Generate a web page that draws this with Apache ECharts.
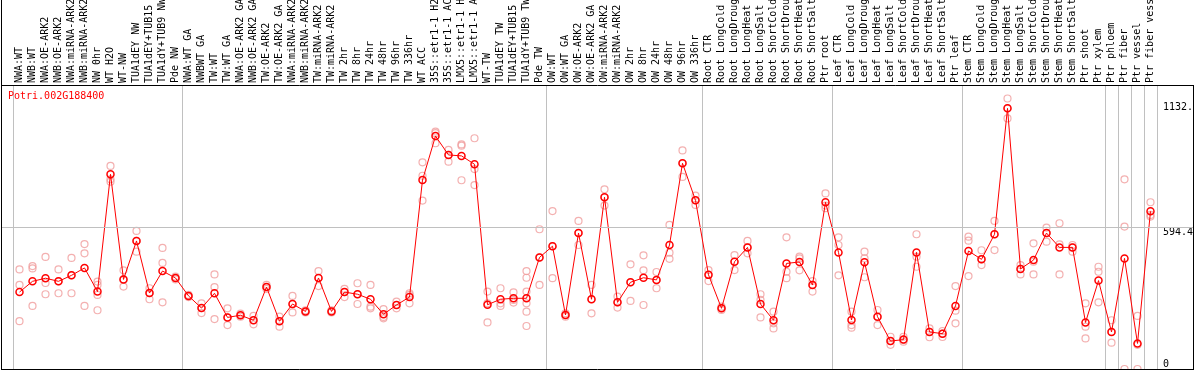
<!DOCTYPE html>
<html>
<head>
<meta charset="utf-8">
<script src="https://cdn.jsdelivr.net/npm/echarts@6/dist/echarts.min.js"></script>
<style>
html,body{margin:0;padding:0;background:#fff;}
#chart{width:1194px;height:370px;}
</style>
</head>
<body>
<div id="chart"></div>
<script>
const geneName = 'Potri.002G188400';

const categories = [
  'NWA:WT','NWB:WT','NWA:OE-ARK2','NWB:OE-ARK2','NWA:miRNA-ARK2','NWB:miRNA-ARK2','NW 0hr','WT H2O','WT-NW','TUA1dEY NW',
  'TUA1dEY+TUB15 NW','TUA1dY+TUB9 NW','Pde NW',
  'NWA:WT GA','NWBWT GA','TW:WT','TW:WT GA','NWA:OE-ARK2 GA','NWB:OE-ARK2 GA','TW:OE-ARK2','TW:OE-ARK2 GA',
  'NWA:miRNA-ARK2 GA','NWB:miRNA-ARK2 GA','TW:miRNA-ARK2','TW:miRNA-ARK2 GA','TW 2hr','TW 8hr','TW 24hr','TW 48hr','TW 96hr',
  'TW 336hr','WT ACC','35S::etr1-1 H2O','35S::etr1-1 ACC','LMX5::etr1-1 H2O','LMX5::etr1-1 ACC','WT-TW','TUA1dEY TW','TUA1dEY+TUB15 TW','TUA1dY+TUB9 TW',
  'Pde TW',
  'OW:WT','OW:WT GA','OW:OE-ARK2','OW:OE-ARK2 GA','OW:miRNA-ARK2','OW:miRNA-ARK2 GA','OW 2hr','OW 8hr','OW 24hr',
  'OW 48hr','OW 96hr','OW 336hr',
  'Root CTR','Root LongCold','Root LongDrought','Root LongHeat','Root LongSalt','Root ShortCold','Root ShortDrought',
  'Root ShortHeat','Root ShortSalt','Ptr root',
  'Leaf CTR','Leaf LongCold','Leaf LongDrought','Leaf LongHeat','Leaf LongSalt','Leaf ShortCold','Leaf ShortDrought',
  'Leaf ShortHeat','Leaf ShortSalt','Ptr leaf',
  'Stem CTR','Stem LongCold','Stem LongDrought','Stem LongHeat','Stem LongSalt','Stem ShortCold','Stem ShortDrought',
  'Stem ShortHeat','Stem ShortSalt','Ptr shoot','Ptr xylem',
  'Ptr phloem','Ptr fiber','Ptr vessel','Ptr fiber vessel'
];

// indices of the first category of each separated group
const groupStarts = [0, 13, 41, 53, 63, 73, 84, 85, 86, 87];

// mean expression per sample
const meanValues = [
  322, 367, 380, 367, 392, 423, 324, 815, 375, 536,
  318, 410, 381, 306, 255, 317, 216, 225, 204, 343,
  200, 272, 241, 381, 241, 322, 313, 292, 229, 268,
  301, 791, 975, 896, 892, 857, 269, 292, 296, 296,
  467, 514, 226, 569, 292, 719, 279, 363, 382, 373,
  519, 861, 706, 394, 254, 449, 509, 272, 204, 442,
  448, 352, 698, 488, 205, 447, 219, 117, 123, 488,
  155, 148, 264, 494, 459, 564, 1091, 419, 456, 569,
  509, 509, 195, 370, 155, 463, 107, 660
];

// individual replicate values per sample
const replicates = [
  [417,352,200],[431,421,264],[469,360,313],[417,367,317],[465,392,317],
  [523,484,264],[366,352,310,246],[850,794,784],[413,375,345],[578,536,491],
  [338,318,292],[507,444,279],[387,380,375],[310,306,301],[275,255,234],
  [396,343,209],[254,216,184],[232,225,219],[222,204,187],[352,343,335],
  [219,200,177],[306,272,237],[246,241,237],[410,381,347],[246,241,237],
  [335,322,301],[359,313,272],[352,261,254],[251,218,212],[282,268,254],
  [317,310,275],[865,809,705],[994,987,945],[917,896,868],[940,935,790],
  [966,837,770],[324,275,195],[338,275,264],[321,289,278],[410,382,324,275,240,180],
  [585,467,352],[661,514,380],[233,226,219],[620,569,519],[352,292,233],
  [752,719,684],[303,279,257],[438,363,285],[476,413,268],[406,373,338],
  [603,487,461],[915,861,804],[726,706,687],[414,394,368],[261,254,247],
  [477,449,414],[536,509,484],[313,289,216],[240,191,170],[551,407,380],
  [470,463,413],[368,352,324],[735,684,673],[551,519,392],[240,184,173],
  [491,463,384],[247,218,184],[135,117,101],[135,121,114],[564,470,428],
  [170,155,133],[159,148,134],[347,244,191],[554,537,389],[497,459,435],
  [620,564,498],[1132.2,1091,1049],[435,419,396],[526,449,396],[592,569,533],
  [610,522,396],[519,509,491],[275,177,128],[428,407,279],[204,155,110],
  [794,596,0],[222,101,0],[698,645,638]
];

const yMax = 1188.8;
const yTickValues = [0, 594.4, 1132.2];
const yTickLabels = ['0', '594.4', '1132.'];
const midValue = 594.4;

const FONT = 'DejaVu Sans Mono';
const GRAY = '#c0c0c0';
const RED = '#ff0000';
const PINK = '#f09c9c';

const repPoints = [];
replicates.forEach((reps, i) => reps.forEach(v => repPoints.push([i, v])));

const groupInterval = (index) => groupStarts.indexOf(index) >= 0;

function labelAxis(i, va, pad) {
  return {
    type: 'value', gridIndex: 0, min: 0, max: yMax, position: 'right',
    axisLine: {show: false}, axisTick: {show: false}, splitLine: {show: false},
    axisLabel: {
      show: true, customValues: [yTickValues[i]], margin: 6, align: 'left',
      verticalAlign: va, padding: pad, color: '#000', fontSize: 10, fontFamily: FONT,
      formatter: (v) => yTickLabels[yTickValues.indexOf(v)]
    }
  };
}

const chart = echarts.init(document.getElementById('chart'), null, {renderer: 'canvas'});
chart.setOption({
  animation: false,
  backgroundColor: '#ffffff',
  textStyle: {fontFamily: FONT},
  title: {
    text: geneName, left: 8, top: 91, padding: 0,
    textStyle: {color: RED, fontSize: 10, fontWeight: 'normal', fontFamily: FONT}
  },
  grid: [
    {left: 13, right: 37, top: 85, bottom: 1, containLabel: false, outerBoundsMode: 'none'},
    {left: 1, right: 1, top: 85, bottom: 1, containLabel: false, outerBoundsMode: 'none'}
  ],
  xAxis: [
    {
      type: 'category', gridIndex: 0, data: categories, position: 'top', boundaryGap: true,
      axisLine: {show: false},
      axisTick: {show: true, inside: false, length: 85, interval: groupInterval, lineStyle: {color: GRAY, width: 1}},
      splitLine: {show: true, interval: groupInterval, lineStyle: {color: GRAY, width: 1}},
      axisLabel: {rotate: 90, interval: 0, margin: 2, fontSize: 10, color: '#000', fontFamily: FONT, hideOverlap: false}
    },
    {type: 'value', gridIndex: 1, min: 0, max: 1, show: false}
  ],
  yAxis: [
    {type: 'value', gridIndex: 0, min: 0, max: yMax, position: 'right',
     axisLine: {show: false}, axisTick: {show: false}, splitLine: {show: false}, axisLabel: {show: false}},
    labelAxis(0, 'bottom', [0, 0, 0, 0]),
    labelAxis(1, 'top', [0, 0, 0, 0]),
    labelAxis(2, 'top', [4, 0, 0, 0]),
    {type: 'value', gridIndex: 1, min: 0, max: yMax, show: false}
  ],
  series: [
    {
      type: 'line', xAxisIndex: 1, yAxisIndex: 4, data: [[0, 0]], showSymbol: false, silent: true, z: 1,
      lineStyle: {opacity: 0},
      markLine: {
        silent: true, symbol: 'none', animation: false, label: {show: false},
        lineStyle: {color: GRAY, type: 'solid', width: 1},
        data: [{yAxis: midValue}]
      }
    },
    {
      type: 'scatter', xAxisIndex: 0, yAxisIndex: 0, data: repPoints, z: 3,
      symbol: 'circle', symbolSize: 7, clip: false,
      itemStyle: {color: 'rgba(255,255,255,0)', borderColor: PINK, borderWidth: 1.2}
    },
    {
      type: 'line', xAxisIndex: 0, yAxisIndex: 0, data: meanValues, z: 4,
      symbol: 'circle', symbolSize: 7, showSymbol: true,
      lineStyle: {color: RED, width: 1},
      itemStyle: {color: 'rgba(255,255,255,0)', borderColor: RED, borderWidth: 1.5}
    }
  ],
  graphic: [
    {type: 'line', z: 100, silent: true, shape: {x1: 1.5, y1: 0, x2: 1.5, y2: 370}, style: {stroke: '#000', lineWidth: 1}},
    {type: 'line', z: 100, silent: true, shape: {x1: 1, y1: 85.5, x2: 1194, y2: 85.5}, style: {stroke: '#000', lineWidth: 1}},
    {type: 'line', z: 100, silent: true, shape: {x1: 1, y1: 369.5, x2: 1194, y2: 369.5}, style: {stroke: '#000', lineWidth: 1}},
    {type: 'line', z: 100, silent: true, shape: {x1: 1193.5, y1: 85, x2: 1193.5, y2: 370}, style: {stroke: '#000', lineWidth: 1}}
  ]
});
</script>
</body>
</html>
